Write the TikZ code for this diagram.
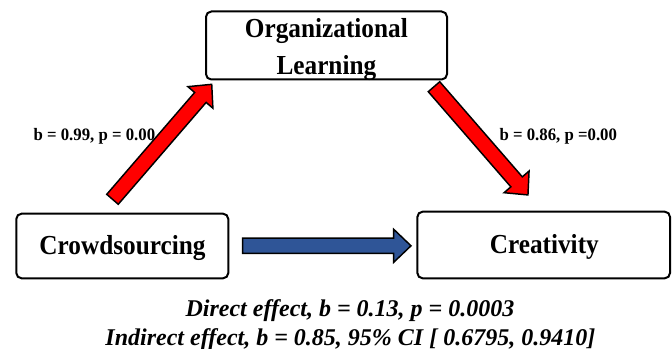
\documentclass[tikz,border=0pt]{standalone}
\usepackage{fontspec}
\setmainfont{Liberation Serif}
\newfontfamily\boxfont[FakeStretch=0.92]{Liberation Serif}
\newfontfamily\pathfont[FakeStretch=0.96]{Liberation Serif}
\usetikzlibrary{calc}
% half shaft width, half head width and head length of the block arrows
\newcommand\bkShaft{5.7pt}
\newcommand\bkHead{12.4pt}
\newcommand\bkTip{13pt}
\definecolor{arrowred}{HTML}{FF0000}
\definecolor{arrowblue}{HTML}{2F5597}
\begin{document}
\begin{tikzpicture}[x=0.75pt,y=-0.75pt,
  varbox/.style={draw=black, line width=1.5pt, rounded corners=4pt, fill=white, inner sep=0pt},
  boxtext/.style={font=\boxfont\bfseries\fontsize{20.6pt}{27.5pt}\selectfont, align=center, inner sep=0pt},
  coef/.style={font=\pathfont\bfseries\fontsize{13.1pt}{15pt}\selectfont, inner sep=0pt, anchor=base west},
  effect/.style={font=\bfseries\itshape\fontsize{18pt}{23pt}\selectfont, inner sep=0pt, anchor=base},
  blockarrow/.style={draw=black, line width=1.1pt, line join=miter,
    to path={let \p1=($(\tikztotarget)-(\tikztostart)$),
                 \n1={veclen(\x1,\y1)}, \n2={atan2(\y1,\x1)} in
      {[shift={(\tikztostart)}, rotate=\n2]
        (0pt,-\bkShaft) -- ({\n1-\bkTip},-\bkShaft) -- ({\n1-\bkTip},-\bkHead)
        -- (\n1,0pt) -- ({\n1-\bkTip},\bkHead) -- ({\n1-\bkTip},\bkShaft)
        -- (0pt,\bkShaft) -- cycle}}}
]
\useasboundingbox (0,0) rectangle (672,349);

% variable boxes
\node[varbox, minimum width=180.75pt, minimum height=51pt] (ol) at (326.5,45.5) {};
\node[varbox, minimum width=159pt, minimum height=48.5pt] (cs) at (122.3,246) {};
\node[varbox, minimum width=189.5pt, minimum height=50pt] (cr) at (543.7,245) {};

\node[boxtext] (oltext) at (326.4,49.3) {Organizational\\Learning};
\node[boxtext, anchor=base] (cstext) at (122.5,254.5) {Crowdsourcing};
\node[boxtext, anchor=base] (crtext) at (544.3,253.3) {Creativity};

% path coefficients
\node[coef] (acoef) at (33.3,141) {b = 0.99, p = 0.00};
\node[coef] (bcoef) at (499.3,141) {b = 0.86, p =0.00};

% arrow end points
\coordinate (aStart) at (112.5,199.3);
\coordinate (aEnd)   at (212,84);
\coordinate (bStart) at (434,86.7);
\coordinate (bEnd)   at (528,195);
\coordinate (cStart) at (242.7,245.8);
\coordinate (cEnd)   at (411,245.8);

\draw[blockarrow, fill=arrowred] (aStart) to (aEnd);
\draw[blockarrow, fill=arrowred] (bStart) to (bEnd);
\draw[blockarrow, fill=arrowblue] (cStart) to (cEnd);

% effects
\node[effect] (direct) at (350,316) {Direct effect, b = 0.13, p = 0.0003};
\node[effect] (indirect) at (350.4,345.5) {Indirect effect, b = 0.85, 95\% CI [ 0.6795, 0.9410]};
\end{tikzpicture}
\end{document}
